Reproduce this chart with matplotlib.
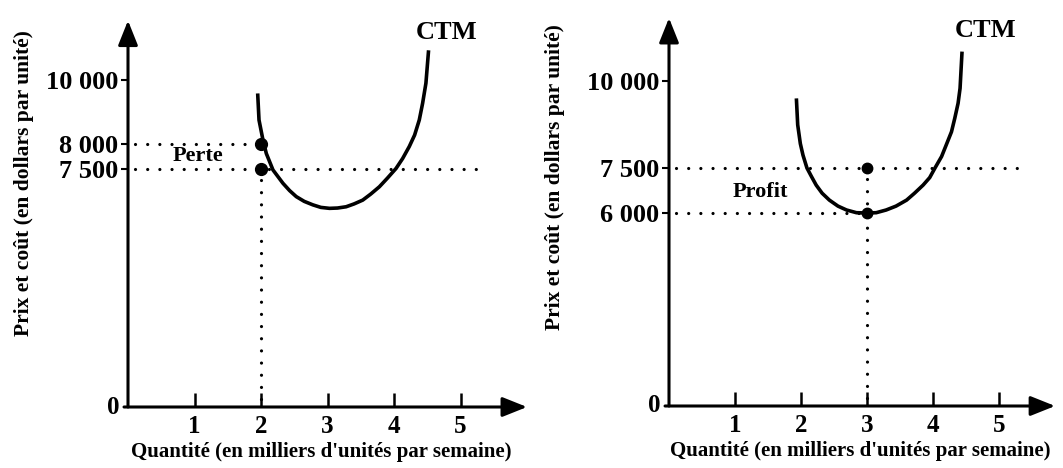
import matplotlib
matplotlib.use('Agg')
import matplotlib.pyplot as plt
import numpy as np

# CTM curves (quantity in thousands, cost in $)
ctm_x_gauche = [1.95, 1.97, 2.03, 2.08, 2.18, 2.33, 2.43, 2.53, 2.65, 2.78, 2.90, 3.03, 3.15, 3.28,
                3.40, 3.53, 3.65, 3.78, 3.90, 4.03, 4.13, 4.23, 4.31, 4.38, 4.43, 4.48, 4.52]
ctm_y_gauche = [9580, 8750, 8120, 7810, 7470, 7050, 6820, 6630, 6480, 6370, 6290, 6260, 6270, 6310,
                6400, 6520, 6710, 6940, 7210, 7510, 7710, 7950, 8280, 8750, 9270, 9900, 10900]

ctm_x_droite = [1.93, 1.95, 1.99, 2.03, 2.09, 2.16, 2.23, 2.32, 2.43, 2.56, 2.69, 2.84, 3.0, 3.14,
                3.29, 3.44, 3.6, 3.72, 3.85, 3.95, 4.03, 4.13, 4.2, 4.28, 4.33, 4.38, 4.41, 4.44]
ctm_y_droite = [9500, 8740, 8200, 7870, 7500, 7210, 6930, 6660, 6430, 6230, 6100, 6010, 6000, 6010,
                6100, 6230, 6430, 6660, 6930, 7180, 7500, 7830, 8160, 8540, 8930, 9360, 9790, 10840]

x_ticks = [1, 2, 3, 4, 5]
y_ticks_gauche = [10000, 8000, 7500]
y_labels_gauche = ['10 000', '8 000', '7 500']
y_ticks_droite = [10000, 7500, 6000]
y_labels_droite = ['10 000', '7 500', '6 000']

prix = 7500
q_gauche, cout_gauche = 2, 8000
q_droite, cout_droite = 3, 6000

# the printed y axes are not to scale: piecewise-linear value -> pixel
echelle_gauche = ([0, 7500, 8000, 10000, 12000], [0, 238, 263, 327, 393])
echelle_droite = ([0, 6000, 7500, 10000, 12000], [0, 193, 238, 325, 395])

plt.rcParams['font.family'] = ['Liberation Serif', 'DejaVu Serif']
plt.rcParams['font.weight'] = 'bold'
plt.rcParams['axes.labelweight'] = 'bold'

W, H = 1063, 468
fig = plt.figure(figsize=(W / 100, H / 100), dpi=100)

dot_style = dict(color='black', lw=2.3, linestyle=(0, (0.01, 3.8)), dash_capstyle='round')
curve_style = dict(color='black', lw=2.6, solid_joinstyle='round', solid_capstyle='butt')
YMAX = 11800


def make_axes(x0, y0, sx, xmax, echelle):
    vals, pix = echelle
    fwd = lambda v: np.interp(v, vals, pix)
    inv = lambda p: np.interp(p, pix, vals)
    w = xmax * sx
    h = fwd(YMAX)
    ax = fig.add_axes([x0 / W, (H - y0) / H, w / W, h / H])
    ax.set_yscale('function', functions=(fwd, inv))
    ax.set_xlim(0, xmax)
    ax.set_ylim(0, YMAX)
    for s in ax.spines.values():
        s.set_visible(False)
    ax.patch.set_alpha(0)
    arrow = dict(arrowstyle='-|>,head_length=0.75,head_width=0.3', color='black',
                 lw=2.2, shrinkA=0, shrinkB=0, mutation_scale=20)
    ax.annotate('', xy=(0, YMAX), xytext=(0, 0), arrowprops=arrow, annotation_clip=False)
    ax.annotate('', xy=(xmax, 0), xytext=(-0.06, 0), arrowprops=arrow, annotation_clip=False)
    ax.set_xticks(x_ticks)
    ax.set_xticklabels([str(t) for t in x_ticks], fontsize=18)
    ax.tick_params(axis='x', direction='in', length=10, width=1.8, pad=6)
    ax.tick_params(axis='y', direction='out', length=5, width=1.5, pad=2, labelsize=19)
    ax.minorticks_off()
    ax.text(-0.13, 0, '0', ha='right', va='center', fontsize=18)
    ax.set_xlabel("Quantité (en milliers d'unités par semaine)", fontsize=15)
    ax.set_ylabel('Prix et coût (en dollars par unité)', fontsize=15.5)
    return ax


# Perte
ax1 = make_axes(128, 407, 66.5, 6.0, echelle_gauche)
ax1.set_yticks(y_ticks_gauche)
ax1.set_yticklabels(y_labels_gauche)
ax1.plot(ctm_x_gauche, ctm_y_gauche, **curve_style)
ax1.plot([0.1, q_gauche], [cout_gauche, cout_gauche], **dot_style)
ax1.plot([0.1, 5.3], [prix, prix], **dot_style)
ax1.plot([q_gauche, q_gauche], [prix - 350, 0], **dot_style)
ax1.plot([q_gauche, q_gauche], [cout_gauche, prix], 'o', color='black', ms=8.5)
ax1.text(1.05, 7760, 'Perte', ha='center', va='center', fontsize=16)
ax1.text(4.32, 11450, 'CTM', ha='left', va='center', fontsize=19)
ax1.xaxis.set_label_coords(0.485, -0.09)
ax1.yaxis.set_label_coords(-0.235, 0.58)

# Profit
ax2 = make_axes(669, 406, 66, 5.85, echelle_droite)
ax2.set_yticks(y_ticks_droite)
ax2.set_yticklabels(y_labels_droite)
ax2.plot(ctm_x_droite, ctm_y_droite, **curve_style)
ax2.plot([0.1, 5.27], [prix, prix], **dot_style)
ax2.plot([0.1, q_droite], [cout_droite, cout_droite], **dot_style)
ax2.plot([q_droite, q_droite], [prix - 350, 0], **dot_style)
ax2.plot([q_droite, q_droite], [prix, cout_droite], 'o', color='black', ms=7.5)
ax2.text(1.39, 6700, 'Profit', ha='center', va='center', fontsize=16)
ax2.text(4.33, 11450, 'CTM', ha='left', va='center', fontsize=19)
ax2.xaxis.set_label_coords(0.495, -0.09)
ax2.yaxis.set_label_coords(-0.27, 0.59)

fig.savefig('out.png', dpi=100)
